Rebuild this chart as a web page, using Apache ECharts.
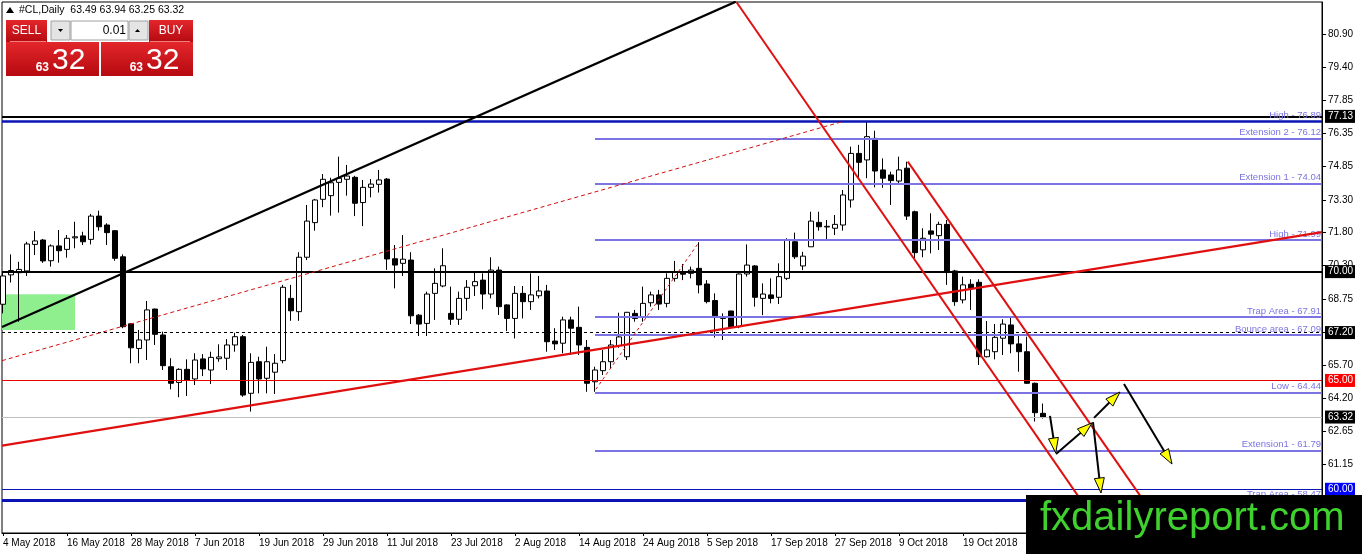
<!DOCTYPE html>
<html><head><meta charset="utf-8">
<script src="https://cdn.jsdelivr.net/npm/echarts@6/dist/echarts.min.js"></script>
<style>html,body{margin:0;padding:0;background:#fff}#c{width:1362px;height:554px}</style>
</head><body><div id="c"></div>
<script>
// ---------------- DATA ----------------
const symbolName = '#CL,Daily';
const dateLabels = ['4 May 2018','16 May 2018','28 May 2018','7 Jun 2018','19 Jun 2018','29 Jun 2018','11 Jul 2018','23 Jul 2018','2 Aug 2018','14 Aug 2018','24 Aug 2018','5 Sep 2018','17 Sep 2018','27 Sep 2018','9 Oct 2018','19 Oct 2018'];
const dateLabelBars = [0,8,16,24,32,40,48,56,64,72,80,88,96,104,112,120];
const priceTicks = [80.90,79.40,77.85,76.35,74.85,73.30,71.80,70.30,68.75,67.20,65.70,64.20,62.65,61.15];

const opens  = [68.5,69.85,69.95,70.03,71.25,71.45,70.5,71.18,71.02,71.55,71.64,71.48,72.55,72.14,71.88,70.68,67.6,66.47,66.86,68.28,67.09,65.63,64.91,65.51,65.07,65.99,65.48,66.0,66.02,66.63,67.01,64.41,65.86,65.10,65.38,65.91,68.77,68.16,70.66,72.25,73.32,73.49,74.1,74.24,74.33,73.17,73.87,74.01,74.25,70.59,70.38,70.53,68.0,67.62,69.0,69.34,68.08,67.81,68.77,69.35,69.61,68.97,70.07,68.47,67.85,69.0,68.62,68.89,69.11,66.81,66.71,67.78,67.44,66.52,64.94,65.45,65.86,66.6,66.09,68.08,67.93,68.57,68.93,68.54,69.69,69.99,69.92,70.15,69.43,68.67,67.85,68.19,67.47,69.89,70.26,68.77,68.93,68.82,69.69,71.37,70.26,71.14,72.26,72.05,71.99,72.14,73.29,75.43,75.13,76.12,74.67,74.44,74.16,74.75,72.75,71.0,71.87,71.65,72.17,70.03,68.70,69.42,69.51,66.09,66.32,66.94,67.55,66.68,66.32,64.87,63.49];
const closes = [69.8,70.05,70.1,71.27,71.41,70.49,71.18,70.96,71.53,71.6,71.37,72.55,72.06,71.79,70.61,67.47,66.5,66.86,68.24,67.12,65.68,64.87,65.51,65.02,65.94,65.53,66.06,66.08,66.63,67.01,64.33,65.83,65.07,65.86,65.79,69.28,68.20,70.66,72.32,73.29,74.24,74.08,74.29,74.39,73.14,73.87,74.02,74.21,70.58,70.30,70.57,67.97,67.59,68.97,69.46,70.27,67.81,68.77,69.28,69.54,68.97,70.07,68.39,67.85,69.0,68.62,68.93,69.11,66.78,66.68,67.78,67.40,66.63,64.87,65.48,65.86,66.63,67.0,68.13,67.85,68.54,68.93,68.51,69.69,69.99,69.88,70.07,69.39,68.62,67.97,67.88,67.47,69.89,70.30,68.82,68.97,68.77,69.77,71.45,70.68,70.71,72.32,72.06,72.08,72.17,73.52,75.43,75.02,76.20,74.62,74.29,74.18,74.67,72.55,70.87,71.53,71.72,72.17,70.0,68.62,69.39,69.23,66.09,66.40,66.98,67.59,66.68,66.32,64.87,63.52,63.32];
const lows   = [68.08,69.5,67.7,69.8,70.76,70.4,70.23,70.41,70.64,71.07,71.22,71.25,71.88,71.22,70.5,67.40,65.79,65.79,65.94,66.63,65.48,64.59,64.23,64.29,64.79,65.20,64.84,65.86,65.48,66.32,64.25,63.57,64.41,64.41,64.38,65.79,67.74,67.74,70.53,71.88,72.96,72.57,72.71,73.49,72.55,72.09,73.41,73.63,70.08,69.23,69.80,67.59,67.04,67.04,67.78,69.28,67.55,67.55,68.20,68.88,68.27,68.77,68.01,67.27,66.93,67.85,68.24,68.77,66.32,66.40,66.25,66.17,66.17,64.48,64.48,65.25,65.56,66.5,65.94,67.70,67.70,68.39,68.24,68.36,69.54,69.61,69.69,69.0,68.54,66.97,66.86,67.40,67.40,69.77,68.39,68.0,68.54,68.51,69.61,70.58,70.07,71.14,71.88,71.45,71.68,71.88,72.94,74.29,74.29,73.87,73.85,73.06,73.98,72.37,70.61,70.66,70.84,70.99,69.39,68.43,68.54,68.24,65.71,66.06,65.97,66.17,66.25,65.40,64.84,63.11,63.25];
const highs  = [70.0,70.79,70.45,71.37,71.86,71.5,71.25,71.91,71.68,72.29,71.83,72.65,72.80,72.22,71.9,70.79,67.63,67.32,68.65,68.3,67.24,66.02,65.56,65.97,66.25,66.21,66.32,66.66,66.90,67.19,67.09,66.25,66.09,66.55,66.21,69.39,69.39,70.89,73.06,73.34,74.48,74.31,75.28,74.90,74.4,74.21,74.25,74.67,74.3,71.22,71.68,70.89,68.05,69.08,70.15,71.07,69.31,69.08,69.61,69.95,69.92,70.66,70.23,68.5,69.34,69.34,69.92,69.80,69.39,67.40,67.93,67.93,68.39,66.86,65.63,66.40,66.86,68.11,68.15,68.24,69.31,69.08,69.16,69.92,70.49,70.35,70.23,71.35,69.61,69.0,68.08,68.2,69.92,71.25,70.3,69.46,69.69,70.38,71.53,71.79,70.91,72.75,72.75,72.37,72.60,73.75,75.74,75.82,76.89,76.47,75.20,74.59,75.28,75.05,72.8,71.99,72.68,72.29,72.37,70.08,69.77,69.65,69.65,67.73,67.59,67.81,67.90,67.09,67.01,64.9,63.94];

// horizontal levels (full width)
const hLinePrices = [77.13, 76.89, 70.00, 67.20, 65.00, 63.32, 60.00, 59.51];
const hLineTexts  = ['', 'High - 76.89', '', '', '', '', '', 'Trap Area - 58.47'];
// fibo levels (start at the swing low bar)
const fiboStartBar = 74;
const fiboLevels = [76.12, 74.04, 71.45, 67.91, 67.09, 64.44, 61.79];
const fiboTexts  = ['Extension 2 - 76.12','Extension 1 - 74.04','High - 71.99','Trap Area - 67.91','Bounce area - 67.09','Low - 64.44','Extension1 - 61.79'];
// trend lines [barIndex, price]
const blackTrend   = [[-0.125, 67.455], [91.6, 82.40]];
const redRising    = [[-0.125, 62.01], [164.875, 71.815]];
const redDashed    = [[-0.125, 65.91], [104.875, 76.886]];
const redDashSmall = [[74.1, 64.59], [87.0, 71.35]];
const channelLow   = [[91.7, 82.37], [137.6, 57.99]];
const channelHigh  = [[113.1, 75.05], [145.4, 57.99]];
// green zone [bar from, bar to], [price low, price high]
const greenZoneBars = [-0.125, 9];
const greenZonePrices = [67.32, 68.96];
// projected path arrows [bar1, price1, bar2, price2]
const arrows = [
  [130.875, 63.37, 131.59, 61.67],
  [131.625, 61.62, 136.125, 63.05],
  [136.375, 63.28, 139.625, 64.47],
  [140.125, 64.84, 146.125, 61.16],
  [136.25, 63.09, 137.25, 59.83]
];

// ---------------- CHART ----------------
const FONT = '"Liberation Sans", Arial, sans-serif';
const FIBO = '#7B74E2';
const N = opens.length;
const candleRows = opens.map((o, i) => [i, o, closes[i], lows[i], highs[i]]);
const X_MIN = -0.125, X_MAX = 164.875, Y_MIN = 57.993, Y_MAX = 82.384;

const H_STYLE = [
  {color:'#000000', width:2, tag:'#000000'},
  {color:'#0A14B4', width:2.5},
  {color:'#000000', width:2, tag:'#000000'},
  {color:'#000000', width:1, type:[3,3], tag:'#000000'},
  {color:'#E80000', width:1, tag:'#FF0000'},
  {color:'#C0C0C0', width:1, tag:'#000000'},
  {color:'#0A14B4', width:1, tag:'#0000FF'},
  {color:'#0A14B4', width:3}
];

const hLineData = hLinePrices.map((p, i) => {
  const s = H_STYLE[i];
  const item = {yAxis: p, lineStyle:{color:s.color, width:s.width, type:s.type || 'solid'}};
  if (s.tag) {
    item.label = {show:true, position:'end', distance:3, formatter:p.toFixed(2), color:'#fff',
      backgroundColor:s.tag, padding:[2,2,1,3], fontSize:10, fontFamily:FONT};
  } else if (hLineTexts[i]) {
    item.label = {show:true, position:'insideEndTop', distance:1, formatter:hLineTexts[i], color:FIBO, fontSize:9.5, fontFamily:FONT};
  } else {
    item.label = {show:false};
  }
  return item;
});

const fiboData = fiboLevels.map((lv, i) => [
  {coord:[fiboStartBar, lv], lineStyle:{color:FIBO, width:2, type:'solid'},
   label:{show:true, position:'insideEndTop', distance:1, formatter:fiboTexts[i], color:FIBO, fontSize:9.5, fontFamily:FONT}},
  {coord:[X_MAX, lv]}
]);

function trend(data, color, width, type, z) {
  return {type:'line', data:data, symbol:'none', silent:true, clip:true, z:z || 5,
    lineStyle:{color:color, width:width, type:type || 'solid'}, animation:false};
}

const last = N - 1;
const lastParts = closes[last].toFixed(2).split('.');
const headerText = symbolName + '  ' + [opens[last], highs[last], lows[last], closes[last]].map(v => v.toFixed(2)).join(' ');
const redGrad = new echarts.graphic.LinearGradient(0,0,0,1,[{offset:0,color:'#E3262B'},{offset:1,color:'#B50A10'}]);

const option = {
  animation:false,
  backgroundColor:'#ffffff',
  grid:{left:2, right:40, top:2, bottom:21, show:true, borderColor:'#000', borderWidth:1, backgroundColor:'transparent'},
  xAxis:{type:'value', min:X_MIN, max:X_MAX, splitLine:{show:false},
    axisLine:{show:true, onZero:false, lineStyle:{color:'#000', width:1}},
    axisTick:{show:true, customValues:dateLabelBars, length:3, lineStyle:{color:'#000'}},
    axisLabel:{customValues:dateLabelBars, align:'left', margin:5, color:'#000', fontSize:10, fontFamily:FONT,
      formatter:v => dateLabels[dateLabelBars.indexOf(Math.round(v))] || ''}},
  yAxis:{type:'value', position:'right', min:Y_MIN, max:Y_MAX, scale:true, splitLine:{show:false},
    axisLine:{show:true, onZero:false, lineStyle:{color:'#000', width:1}},
    axisTick:{show:true, customValues:priceTicks, length:4, lineStyle:{color:'#000'}},
    axisLabel:{customValues:priceTicks, margin:6, color:'#000', fontSize:10, fontFamily:FONT, formatter:v => v.toFixed(2)}},
  series:[
    {type:'line', z:1, data:[[greenZoneBars[0], greenZonePrices[0]]], symbol:'none', lineStyle:{width:0}, silent:true,
      markArea:{silent:true, itemStyle:{color:'#8FEF8F'},
        data:[[{coord:[greenZoneBars[0], greenZonePrices[1]]},{coord:[greenZoneBars[1], greenZonePrices[0]]}]]}},
    {type:'candlestick', z:3, data:candleRows, encode:{x:0, y:[1,2,3,4]}, barWidth:5, silent:true,
      itemStyle:{color:'#ffffff', color0:'#000000', borderColor:'#000000', borderColor0:'#000000', borderWidth:1}},
    {type:'line', z:4, data:[[X_MIN, 70]], symbol:'none', lineStyle:{width:0}, silent:true,
      markLine:{silent:true, symbol:['none','none'], animation:false, data:fiboData}},
    {type:'line', z:6, data:[[X_MIN, 70]], symbol:'none', lineStyle:{width:0}, silent:true,
      markLine:{silent:true, symbol:['none','none'], animation:false, data:hLineData}},
    trend(blackTrend, '#000000', 2.2),
    trend(redRising, '#E01010', 2.2),
    trend(redDashed, '#D01010', 1, [4,3]),
    trend(redDashSmall, '#D01010', 1, [3,3]),
    trend(channelLow, '#E01010', 2),
    trend(channelHigh, '#E01010', 2),
    {type:'custom', z:8, silent:true, clip:true, data:arrows, encode:{x:[0,2], y:[1,3]},
      renderItem:function(params, api){
        const p1 = api.coord([api.value(0), api.value(1)]);
        const p2 = api.coord([api.value(2), api.value(3)]);
        const dx = p2[0]-p1[0], dy = p2[1]-p1[1], len = Math.hypot(dx, dy);
        const ux = dx/len, uy = dy/len, hl = 15, hw = 5;
        const bx = p2[0]-ux*hl, by = p2[1]-uy*hl;
        return {type:'group', children:[
          {type:'line', shape:{x1:p1[0], y1:p1[1], x2:bx, y2:by}, style:{stroke:'#000', lineWidth:2}},
          {type:'polygon', shape:{points:[[p2[0],p2[1]],[bx-uy*hw, by+ux*hw],[bx+uy*hw, by-ux*hw]]},
            style:{fill:'#FFFF00', stroke:'#000', lineWidth:1}}
        ]};
      }}
  ],
  graphic:{elements:[
    {type:'polygon', z:100, shape:{points:[[6,13],[10,7],[14,13]]}, style:{fill:'#000'}},
    {type:'text', z:100, x:19, y:10, style:{text:headerText, font:'10.5px ' + FONT, fill:'#000', verticalAlign:'middle'}},
    // sell / buy panel
    {type:'rect', z:100, shape:{x:6, y:20, width:41, height:22}, style:{fill:redGrad}},
    {type:'rect', z:100, shape:{x:149, y:20, width:44, height:22}, style:{fill:redGrad}},
    {type:'rect', z:100, shape:{x:6, y:42, width:93, height:34}, style:{fill:redGrad}},
    {type:'rect', z:100, shape:{x:101, y:42, width:92, height:34}, style:{fill:redGrad}},
    {type:'line', z:101, shape:{x1:10, y1:41.5, x2:46, y2:41.5}, style:{stroke:'#F08080', lineWidth:1}},
    {type:'line', z:101, shape:{x1:150, y1:41.5, x2:190, y2:41.5}, style:{stroke:'#F08080', lineWidth:1}},
    {type:'rect', z:100, shape:{x:51, y:21, width:19, height:19}, style:{fill:'#E4E4E4', stroke:'#A0A0A0', lineWidth:1}},
    {type:'rect', z:100, shape:{x:71, y:21, width:57, height:19}, style:{fill:'#FFFFFF', stroke:'#A0A0A0', lineWidth:1}},
    {type:'rect', z:100, shape:{x:129, y:21, width:19, height:19}, style:{fill:'#E4E4E4', stroke:'#A0A0A0', lineWidth:1}},
    {type:'polygon', z:101, shape:{points:[[58,29],[63,29],[60.5,32]]}, style:{fill:'#000'}},
    {type:'polygon', z:101, shape:{points:[[135,32],[140,32],[137.5,29]]}, style:{fill:'#000'}},
    {type:'text', z:101, x:126, y:31, style:{text:'0.01', font:'12px ' + FONT, fill:'#000', align:'right', verticalAlign:'middle'}},
    {type:'text', z:101, x:26.5, y:31, style:{text:'SELL', font:'12px ' + FONT, fill:'#fff', align:'center', verticalAlign:'middle'}},
    {type:'text', z:101, x:171, y:31, style:{text:'BUY', font:'12px ' + FONT, fill:'#fff', align:'center', verticalAlign:'middle'}},
    {type:'text', z:101, x:49, y:68, style:{text:lastParts[0], font:'bold 12px ' + FONT, fill:'#fff', align:'right', verticalAlign:'middle'}},
    {type:'text', z:101, x:52, y:61, style:{text:lastParts[1], font:'30px ' + FONT, fill:'#fff', align:'left', verticalAlign:'middle'}},
    {type:'text', z:101, x:143, y:68, style:{text:lastParts[0], font:'bold 12px ' + FONT, fill:'#fff', align:'right', verticalAlign:'middle'}},
    {type:'text', z:101, x:146, y:61, style:{text:lastParts[1], font:'30px ' + FONT, fill:'#fff', align:'left', verticalAlign:'middle'}},
    // watermark
    {type:'rect', z:200, shape:{x:1026, y:495, width:336, height:59}, style:{fill:'#000'}},
    {type:'text', z:201, x:1040, y:519, style:{text:'fxdailyreport.com', font:'40px ' + FONT, fill:'#3FD12E', verticalAlign:'middle'}}
  ]}
};

const chart = echarts.init(document.getElementById('c'), null, {renderer:'canvas', width:1362, height:554});
chart.setOption(option);
</script>
</body></html>
